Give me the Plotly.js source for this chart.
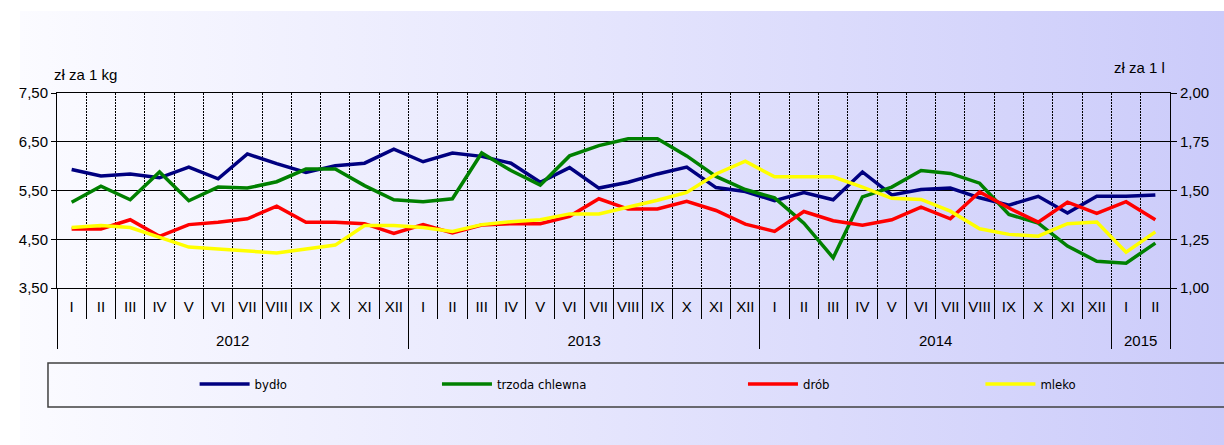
<!DOCTYPE html>
<html>
<head>
<meta charset="utf-8">
<script src="https://cdn.plot.ly/plotly-3.0.1.min.js"></script>
<style>
  body { margin: 0; background: #ffffff; }
  #bg { position: absolute; left: 20px; top: 11px; right: 0; bottom: 0;
        background: linear-gradient(to right, #fbfbff, #e4e4fd 50%, #cbcbfa); }
  #chart { position: absolute; left: 0; top: 0; width: 1224px; height: 445px; }
</style>
</head>
<body>
<div id="bg"></div>
<div id="chart"></div>
<script>
// months and years for the two-level axis
var months = ["I","II","III","IV","V","VI","VII","VIII","IX","X","XI","XII",
              "I","II","III","IV","V","VI","VII","VIII","IX","X","XI","XII",
              "I","II","III","IV","V","VI","VII","VIII","IX","X","XI","XII",
              "I","II"];
var years = ["2012","2012","2012","2012","2012","2012","2012","2012","2012","2012","2012","2012",
             "2013","2013","2013","2013","2013","2013","2013","2013","2013","2013","2013","2013",
             "2014","2014","2014","2014","2014","2014","2014","2014","2014","2014","2014","2014",
             "2015","2015"];

// zl za 1 kg
var bydlo = [5.93,5.80,5.84,5.76,5.98,5.74,6.25,6.05,5.87,6.01,6.06,6.35,
             6.09,6.27,6.20,6.06,5.67,5.97,5.55,5.67,5.84,5.98,5.56,5.48,
             5.29,5.46,5.31,5.88,5.41,5.52,5.55,5.35,5.20,5.38,5.04,5.38,
             5.38,5.41];
var trzoda = [5.26,5.59,5.31,5.88,5.29,5.57,5.55,5.68,5.94,5.94,5.60,5.31,
              5.27,5.33,6.27,5.91,5.61,6.21,6.42,6.56,6.56,6.21,5.79,5.52,
              5.35,4.83,4.12,5.37,5.57,5.91,5.85,5.65,5.01,4.83,4.36,4.05,
              4.01,4.42];
var drob = [4.71,4.71,4.90,4.56,4.80,4.85,4.92,5.18,4.85,4.85,4.82,4.62,
            4.80,4.63,4.79,4.82,4.82,4.97,5.33,5.12,5.12,5.28,5.09,4.81,
            4.66,5.07,4.88,4.79,4.90,5.16,4.92,5.47,5.14,4.85,5.26,5.03,
            5.27,4.90];
// zl za 1 l
var mleko = [1.31,1.32,1.31,1.26,1.21,1.20,1.19,1.18,1.20,1.22,1.32,1.32,
             1.31,1.29,1.325,1.34,1.35,1.38,1.38,1.415,1.45,1.49,1.585,1.65,
             1.57,1.57,1.57,1.517,1.46,1.454,1.394,1.304,1.275,1.266,1.33,1.338,
             1.184,1.288];

// empty second line under each month pushes the year row down
var monthLabels = months.map(m => m + "<br>\u00a0");
var x = [years, monthLabels];
var font = "Liberation Sans, Arial, sans-serif";
var legFont = {family: "DejaVu Sans Condensed, Liberation Sans, Arial", size: 13, color: "#000"};

var data = [
  {x: x, y: bydlo, name: "bydło", type: "scatter", mode: "lines",
   line: {color: "#000080", width: 3.5}, legend: "legend"},
  {x: x, y: trzoda, name: "trzoda chlewna", type: "scatter", mode: "lines",
   line: {color: "#008000", width: 3.5}, legend: "legend2"},
  {x: x, y: drob, name: "drób", type: "scatter", mode: "lines",
   line: {color: "#ff0000", width: 3.5}, legend: "legend3"},
  {x: x, y: mleko, name: "mleko", type: "scatter", mode: "lines", yaxis: "y2",
   line: {color: "#ffff00", width: 3.5}, legend: "legend4"}
];

function leg(xpos) {
  return {x: xpos, y: 0.137, xref: "container", yref: "container",
          xanchor: "left", yanchor: "middle", bgcolor: "rgba(0,0,0,0)",
          borderwidth: 0, font: legFont, itemwidth: 50};
}

var layout = {
  width: 1224, height: 445,
  margin: {l: 57, r: 54, t: 93, b: 157, autoexpand: false},
  paper_bgcolor: "rgba(0,0,0,0)",
  plot_bgcolor: "rgba(0,0,0,0)",
  separators: ",.",
  font: {family: font, size: 15, color: "#000"},
  showlegend: true,
  legend: leg(0.159), legend2: leg(0.357), legend3: leg(0.607), legend4: leg(0.801),
  xaxis: {
    type: "multicategory",
    range: [-0.5, 37.5],
    showgrid: true, gridcolor: "#000", gridwidth: 1, griddash: "2px,1px",
    tickson: "boundaries", ticks: "outside", ticklen: 30, tickcolor: "#000",
    ticklabelstandoff: 5, tickangle: 0,
    showline: true, linecolor: "#000", linewidth: 1, mirror: true,
    showdividers: true, dividercolor: "#000", dividerwidth: 1,
    tickfont: {size: 15}
  },
  yaxis: {
    range: [3.5, 7.5], dtick: 1, tick0: 3.5, tickformat: ".2f",
    showgrid: true, gridcolor: "#000", gridwidth: 1,
    ticks: "outside", ticklen: 5, tickcolor: "#000",
    showline: true, linecolor: "#000", zeroline: false,
    tickfont: {size: 15}
  },
  yaxis2: {
    range: [1, 2], dtick: 0.25, tick0: 1, tickformat: ".2f",
    overlaying: "y", side: "right", showgrid: false,
    ticks: "outside", ticklen: 6, tickcolor: "#000",
    showline: true, linecolor: "#000", zeroline: false,
    tickfont: {size: 15}
  },
  annotations: [
    {text: "zł za 1 kg", xref: "paper", yref: "paper", x: -0.0045, y: 1.097,
     xanchor: "left", yanchor: "middle", showarrow: false, font: {size: 15}},
    {text: "zł za 1 l", xref: "paper", yref: "paper", x: 0.9973, y: 1.133,
     xanchor: "right", yanchor: "middle", showarrow: false, font: {size: 15}}
  ],
  shapes: [
    {type: "rect", xref: "paper", yref: "paper", x0: -0.0081, x1: 1.06, y0: -0.385, y1: -0.61,
     line: {color: "#404040", width: 1.5}, fillcolor: "rgba(0,0,0,0)"}
  ]
};

Plotly.newPlot("chart", data, layout, {staticPlot: true});
</script>
</body>
</html>
